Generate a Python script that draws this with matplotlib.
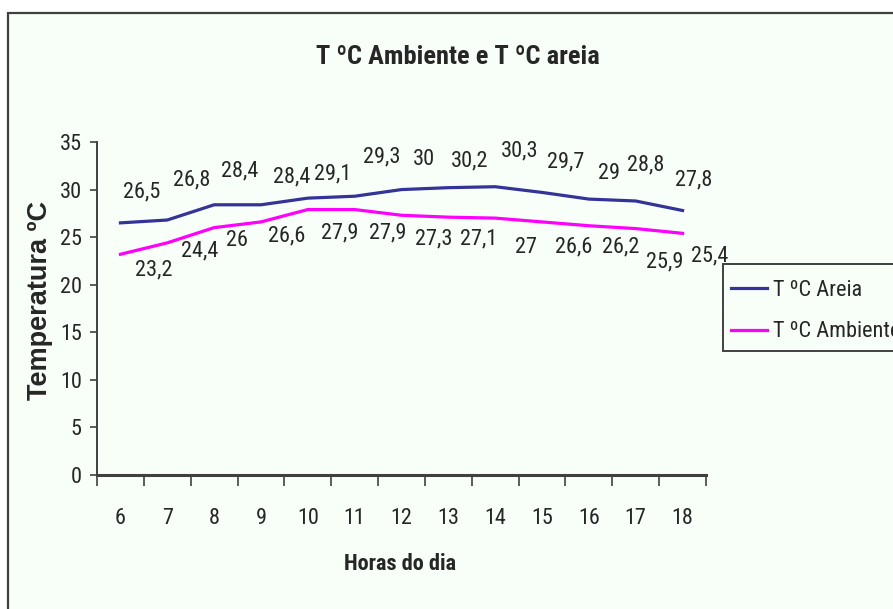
import matplotlib
matplotlib.use('Agg')
import matplotlib.pyplot as plt
from matplotlib import font_manager
from matplotlib.patches import Rectangle
from matplotlib.ticker import FixedLocator, NullFormatter

# ── Data ──────────────────────────────────────────────────────────────────────
horas    = [6, 7, 8, 9, 10, 11, 12, 13, 14, 15, 16, 17, 18]
areia    = [26.5, 26.8, 28.4, 28.4, 29.1, 29.3, 30.0, 30.2, 30.3, 29.7, 29.0, 28.8, 27.8]
ambiente = [23.2, 24.4, 26.0, 26.6, 27.9, 27.9, 27.3, 27.1, 27.0, 26.6, 26.2, 25.9, 25.4]

# label offsets in pixels (dx, dy) from each point
off_areia = [(21, 31), (24, 40), (26, 34), (31, 28), (25, 24), (27, 39), (22, 30),
             (21, 27), (24, 36), (24, 30), (20, 26), (10, 36), (11, 31)]
off_amb   = [(33, -16), (32, -8), (23, -13), (26, -14), (32, -23), (33, -23), (32, -24),
             (30, -22), (31, -29), (32, -25), (32, -21), (29, -33), (27, -23)]

# ── Fonts: prefer a narrow sans, else shrink the regular one ──────────────────
installed = {f.name for f in font_manager.fontManager.ttflist}
NARROW, K = ['Liberation Sans', 'DejaVu Sans'], 0.84
for cand in ['Liberation Sans Narrow', 'Arial Narrow', 'Roboto Condensed']:
    if cand in installed:
        NARROW, K = [cand, 'Liberation Sans', 'DejaVu Sans'], 1.0
        break

TXT = '#262626'
BG  = '#F8FFF8'
EDGE = '#404040'
C_AREIA, C_AMB = '#333399', '#FF00FF'

W, H = 893, 609
fig = plt.figure(figsize=(W / 100, H / 100), dpi=100, facecolor='white')

# chart frame
fig.patches.append(Rectangle((8 / W, -0.1), 1.2, 1 - 13 / H + 0.1, transform=fig.transFigure,
                             facecolor=BG, edgecolor=EDGE, lw=1.6, zorder=-5))

ax = fig.add_axes([97 / W, 1 - 475 / H, (706 - 97) / W, (475 - 142) / H])
ax.set_facecolor('none')

l1, = ax.plot(horas, areia, color=C_AREIA, lw=2.3, label='T ºC Areia', clip_on=False)
l2, = ax.plot(horas, ambiente, color=C_AMB, lw=2.3, label='T ºC Ambiente', clip_on=False)

def fmt(v):
    return f'{v:g}'.replace('.', ',')

for h, v, (dx, dy) in zip(horas, areia, off_areia):
    ax.annotate(fmt(v), (h, v), xytext=(dx, dy), textcoords='offset pixels',
                ha='center', va='center', fontsize=16 * K, family=NARROW, color=TXT)
for h, v, (dx, dy) in zip(horas, ambiente, off_amb):
    ax.annotate(fmt(v), (h, v), xytext=(dx, dy), textcoords='offset pixels',
                ha='center', va='center', fontsize=16 * K, family=NARROW, color=TXT)

ax.set_xlim(horas[0] - 0.5, horas[-1] + 0.5)
ax.set_ylim(0, 35)
ax.set_yticks(range(0, 36, 5))
ax.set_xticks(horas)
ax.xaxis.set_minor_locator(FixedLocator([h - 0.5 for h in horas] + [horas[-1] + 0.5]))
ax.xaxis.set_minor_formatter(NullFormatter())
ax.tick_params(axis='x', which='major', length=0, pad=24, labelsize=16 * K, labelcolor=TXT)
ax.tick_params(axis='x', which='minor', length=8, width=1.2, color=EDGE, direction='out')
ax.tick_params(axis='y', length=5, width=1.2, color=EDGE, pad=6, labelsize=16 * K,
               labelcolor=TXT)
for lab in ax.get_xticklabels() + ax.get_yticklabels():
    lab.set_family(NARROW)

for s in ['top', 'right']:
    ax.spines[s].set_visible(False)
ax.spines['left'].set_color(EDGE)
ax.spines['left'].set_linewidth(1.4)
ax.spines['bottom'].set_color(EDGE)
ax.spines['bottom'].set_linewidth(2.2)

# ── Titles ────────────────────────────────────────────────────────────────────
fig.text(458 / W, 1 - 57 / H, 'T ºC Ambiente e T ºC areia', ha='center', va='center',
         fontsize=19 * K, fontweight='bold', family=NARROW, color=TXT)
fig.text(400 / W, 1 - 564 / H, 'Horas do dia', ha='center', va='center',
         fontsize=16 * K, fontweight='bold', family=NARROW, color=TXT)
fig.text(40 / W, 1 - 301 / H, 'Temperatura ºC', ha='center', va='center', rotation=90,
         fontsize=19.5, fontweight='bold', family=['Liberation Sans', 'DejaVu Sans'], color=TXT)

# ── Legend (box drawn separately, running off the right edge) ─────────────────
fig.patches.append(Rectangle((723 / W, 1 - 351 / H), 200 / W, 87 / H, transform=fig.transFigure,
                             facecolor=BG, edgecolor=EDGE, lw=1.4, zorder=-1))
leg = fig.legend(handles=[l1, l2], loc='center left', bbox_to_anchor=(731 / W, 1 - 311 / H),
                 bbox_transform=fig.transFigure, frameon=False,
                 borderaxespad=0, borderpad=0, handlelength=1.6, handletextpad=0.27,
                 labelspacing=0.93, prop={'family': NARROW, 'size': 16 * K})
for t in leg.get_texts():
    t.set_color(TXT)

fig.savefig('out.png', dpi=100, facecolor='white')
